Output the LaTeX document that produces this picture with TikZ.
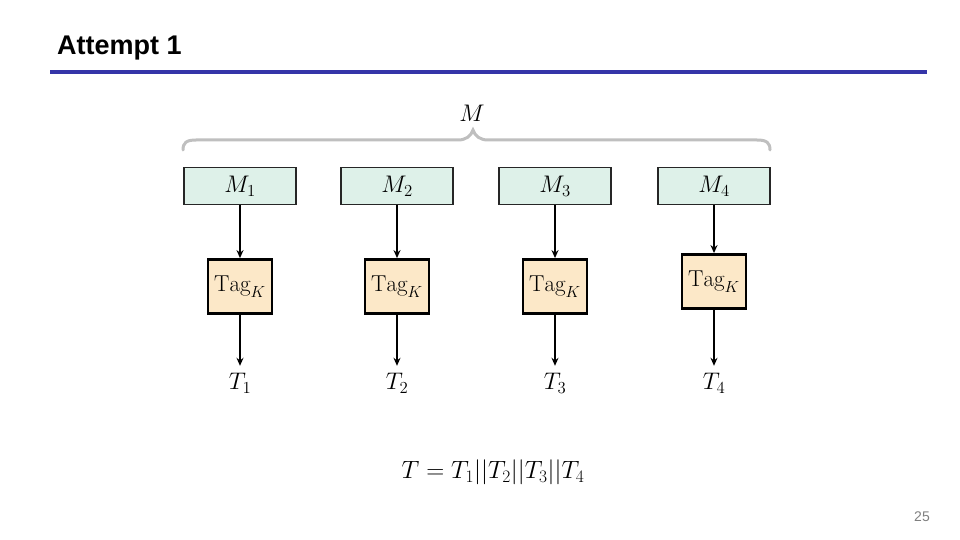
\documentclass[tikz,border=0pt]{standalone}
\usepackage{fix-cm}
\usepackage{fontspec}
\newfontfamily\titlefont{Liberation Sans}
\usetikzlibrary{arrows.meta}
\definecolor{titleblue}{HTML}{3535A8}
\definecolor{mfill}{HTML}{DEF1E9}
\definecolor{tagfill}{HTML}{FCE8C8}
\definecolor{bracegray}{HTML}{BFBFBF}
\definecolor{numgray}{HTML}{7F7F7F}
\tikzset{
  mbox/.style={draw=black!85, line width=1.4pt, fill=mfill, minimum width=112pt, minimum height=37pt, inner sep=0pt, font=\fontsize{24}{28}\selectfont},
  tagbox/.style={draw=black, line width=2.8pt, fill=tagfill, minimum width=64pt, minimum height=54pt, inner sep=0pt, font=\fontsize{23}{27}\selectfont},
  tlabel/.style={inner sep=0pt, font=\fontsize{24}{28}\selectfont},
  arr/.style={-{Stealth[length=8pt,width=7pt]}, line width=2pt, black},
}
\begin{document}
\begin{tikzpicture}[x=1pt,y=-1pt]
\useasboundingbox (0,0) rectangle (960,540);
\node[anchor=base west, inner sep=0pt, font=\titlefont\fontsize{27}{30}\selectfont\bfseries] (title) at (57,55) {Attempt 1};
\draw[titleblue, line width=4pt] (50,72) -- (927,72);
% brace
\draw[bracegray, line width=3pt, line cap=round]
  (183,150) .. controls (183,143) and (186,140) .. (196,140) -- (458,140)
  .. controls (466,140) and (471,136) .. (473,130)
  .. controls (475,136) and (480,140) .. (488,140) -- (757,140)
  .. controls (767,140) and (770,143) .. (770,150);
\node[tlabel] (M) at (472,113) {$M$};
% message blocks
\node[mbox] (m1) at (240,186) {$M_1$};
\node[mbox] (m2) at (397,186) {$M_2$};
\node[mbox] (m3) at (555,186) {$M_3$};
\node[mbox] (m4) at (714,186) {$M_4$};
% tag boxes
\node[tagbox] (g1) at (240,286.5) {$\mathrm{Tag}_K$};
\node[tagbox] (g2) at (397,286.5) {$\mathrm{Tag}_K$};
\node[tagbox] (g3) at (555,286.5) {$\mathrm{Tag}_K$};
\node[tagbox] (g4) at (714,281.5) {$\mathrm{Tag}_K$};
% outputs
\node[tlabel] (t1) at (240,383) {$T_1$};
\node[tlabel] (t2) at (397,383) {$T_2$};
\node[tlabel] (t3) at (555,383) {$T_3$};
\node[tlabel] (t4) at (714,383) {$T_4$};
\foreach \i in {1,2,3,4}{
  \draw[arr] (m\i.south) -- (m\i.south |- g\i.north);
  \draw[arr, shorten >=7pt] (g\i.south) -- (g\i.south |- t\i.north);
}
\node[tlabel, font=\fontsize{25}{29}\selectfont] (T) at (493,472) {$T=T_1||T_2||T_3||T_4$};
\node[inner sep=0pt, text=numgray, font=\titlefont\fontsize{14}{16}\selectfont] (pg) at (922,517) {25};
\end{tikzpicture}
\end{document}
